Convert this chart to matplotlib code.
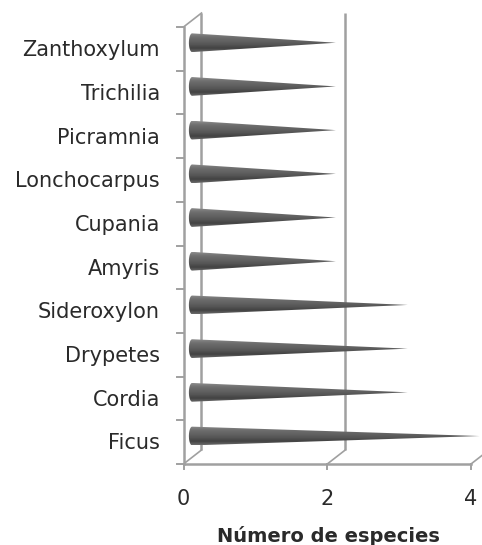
import numpy as np
import matplotlib
matplotlib.use("Agg")
import matplotlib.pyplot as plt
from matplotlib.colors import LinearSegmentedColormap
from matplotlib.patches import Polygon

plt.rcParams["font.family"] = ["DejaVu Sans"]

generos = ["Ficus", "Cordia", "Drypetes", "Sideroxylon", "Amyris",
           "Cupania", "Lonchocarpus", "Picramnia", "Trichilia", "Zanthoxylum"]
especies = [4, 3, 3, 3, 2, 2, 2, 2, 2, 2]
ticks_x = [0, 2, 4]

W, H = 482, 545
fig = plt.figure(figsize=(W / 100, H / 100), dpi=100)
# ejes en la posicion del plano frontal
ax = fig.add_axes([183.5 / W, 1 - 464 / H, 287.5 / W, 437 / H])
for s in ax.spines.values():
    s.set_visible(False)

gris = "#a0a0a0"
texto = "#2a2a2a"
dx = 18 / 71.9   # profundidad en unidades de x
dy = 14 / 43.7   # profundidad en unidades de y
lw = 1.8

# plano de fondo y rejilla (la linea de x=4 no se ve en el original)
for v in ticks_x:
    if v != 4:
        ax.plot([v + dx, v + dx], [-0.5 + dy, 9.5 + dy], color=gris, lw=lw,
                clip_on=False, solid_capstyle="butt")
    ax.plot([v, v + dx], [-0.5, -0.5 + dy], color=gris, lw=1.2, clip_on=False)
ax.plot([0, dx], [9.5, 9.5 + dy], color=gris, lw=1.2, clip_on=False)

# ejes frontales
ax.plot([0, 0], [-0.5, 9.5], color=gris, lw=lw, clip_on=False)
ax.plot([0, 4], [-0.5, -0.5], color=gris, lw=lw, clip_on=False)

# marcas
for k in range(11):
    ax.plot([-0.085, 0], [k - 0.5, k - 0.5], color=gris, lw=1.4, clip_on=False)
for v in ticks_x:
    ax.plot([v, v], [-0.5, -0.62], color=gris, lw=1.4, clip_on=False)

ax.set_xticks([])
ax.set_yticks([])

# conos
cmap = LinearSegmentedColormap.from_list(
    "cono", ["#8c8c8c", "#6f6f6f", "#636363", "#565656", "#424242", "#6a6a6a"])
grad = np.linspace(0, 1, 64).reshape(-1, 1)
x0 = 0.12
alto = 0.215
for i, (g, v) in enumerate(zip(generos, especies)):
    yc = i + 0.14
    tip = v + 0.12
    th = np.linspace(np.pi / 2, 3 * np.pi / 2, 20)
    xs = list(x0 + 0.045 * np.cos(th)) + [tip]
    ys = list(yc + alto * np.sin(th)) + [yc]
    pol = Polygon(np.column_stack([xs, ys]), closed=True, transform=ax.transData,
                  fc="none", ec="none", clip_on=False)
    ax.add_patch(pol)
    im = ax.imshow(grad, cmap=cmap, extent=[x0 - 0.06, tip, yc - alto, yc + alto],
                   aspect="auto", origin="upper", zorder=3)
    im.set_clip_box(fig.bbox)  # la punta de Ficus sale de los ejes
    im.set_clip_path(pol)
    ax.text(-0.33, i - 0.03, g, ha="right", va="center", fontsize=15, color=texto,
            clip_on=False)
ax.set_xlim(0, 4)
ax.set_ylim(-0.5, 9.5)

for v in ticks_x:
    ax.text(v, -1.3, str(v), ha="center", va="center", fontsize=15, color=texto)

fig.text(328 / W, 1 - 536 / H, "Número de especies", ha="center", va="center",
         fontsize=14, fontweight="bold", color=texto)

fig.savefig("out.png", dpi=100)
